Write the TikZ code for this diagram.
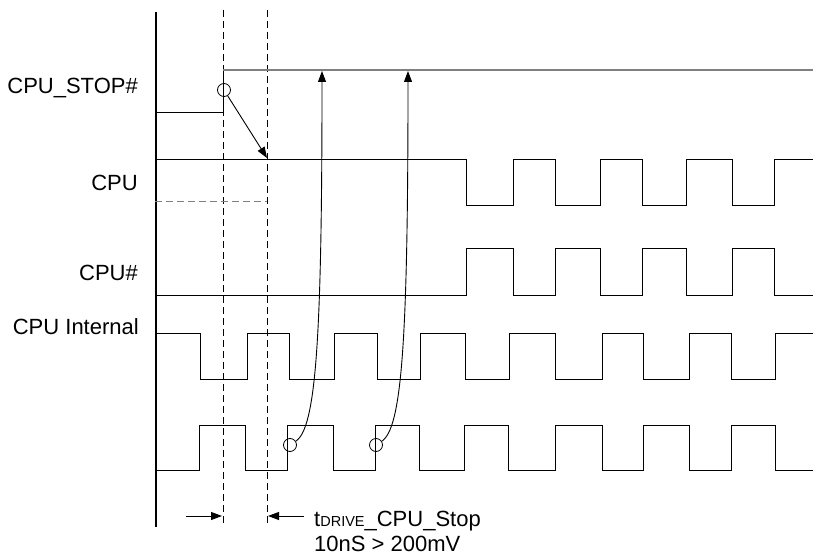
\documentclass[tikz,border=0pt]{standalone}
\usepackage{fontspec}
\setmainfont{Liberation Sans}
\usetikzlibrary{arrows.meta}

\begin{document}
\begin{tikzpicture}[x=1pt,y=-1pt,>={Triangle[length=11pt,width=8pt]}]
\useasboundingbox (0,0) rectangle (813,559);

\begin{scope}[every node/.style={anchor=east,inner sep=0pt,font=\fontsize{22}{26}\selectfont}]
\node (stop) at (138,88) {CPU\_STOP\#};
\node (cpu) at (138,183) {CPU};
\node (cpun) at (138,273) {CPU\#};
\node (int) at (139,327) {CPU Internal};
\end{scope}

% time axis and the two markers
\draw[line width=2pt] (155.5,12) -- (155.5,527);
\draw[line width=0.9pt,dash pattern=on 7pt off 4pt] (223,10) -- (223,525);
\draw[line width=0.9pt,dash pattern=on 7pt off 4pt] (267,10) -- (267,525);

% waveforms
\begin{scope}[line width=1pt]
\draw (155,113) -| (223,70);
\draw[gray,line width=1.4pt] (223,70) -- (813,70);
\draw (155,159) -| (466,205) -| (513,159) -| (555,205) -| (600,159) -| (642,205) -| (686,159) -| (732,205) -| (774,159) -- (813,159);
\draw[gray,dash pattern=on 7pt off 4pt] (155,201) -- (267,201);
\draw (155,295) -| (466,248) -| (513,295) -| (555,248) -| (600,295) -| (642,248) -| (686,295) -| (732,248) -| (774,295) -- (813,295);
\draw (155,333) -| (200,379) -| (247,333) -| (289,379) -| (334,333) -| (377,379) -| (420,333) -| (465,379) -| (509,333) -| (555,379) -| (602,333) -| (643,379) -| (689,333) -| (731,379) -| (775,333) -- (813,333);
\draw (155,470) -| (199,425) -| (245,470) -| (287,425) -| (333,470) -| (375,425) -| (419,470) -| (464,425) -| (508,470) -| (555,425) -| (602,470) -| (643,425) -| (689,470) -| (731,425) -| (775,470) -- (813,470);
\end{scope}

\begin{scope}[every node/.style={circle,draw,line width=0.8pt,minimum size=13pt,inner sep=0pt}]
\node (s) at (224,90) {};
\node (r1) at (290,445) {};
\node (r2) at (376,445) {};
\end{scope}

\coordinate (cpuedge) at (267,158);
\coordinate (top1) at (322,71);
\coordinate (top2) at (408,71);
\coordinate (la) at (186,516);
\coordinate (ra) at (304,516);
\coordinate (lm) at (222,516);
\coordinate (rm) at (268,516);

\begin{scope}[line width=0.9pt]
\path [->] (s) edge (cpuedge);
\draw [->] (r1) .. controls (316,428) and (322,340) .. (top1);
\draw [->] (r2) .. controls (402,428) and (408,340) .. (top2);
\path [->] (la) edge (lm);
\path [->] (ra) edge (rm);
\end{scope}

\begin{scope}[every node/.style={anchor=west,inner sep=0pt,font=\fontsize{22}{26}\selectfont}]
\node (tdrive) at (314,521) {t{\fontsize{14.5}{17}\selectfont DRIVE}\_CPU\_Stop};
\node (spec) at (314,544) {10nS > 200mV};
\end{scope}
\end{tikzpicture}
\end{document}
